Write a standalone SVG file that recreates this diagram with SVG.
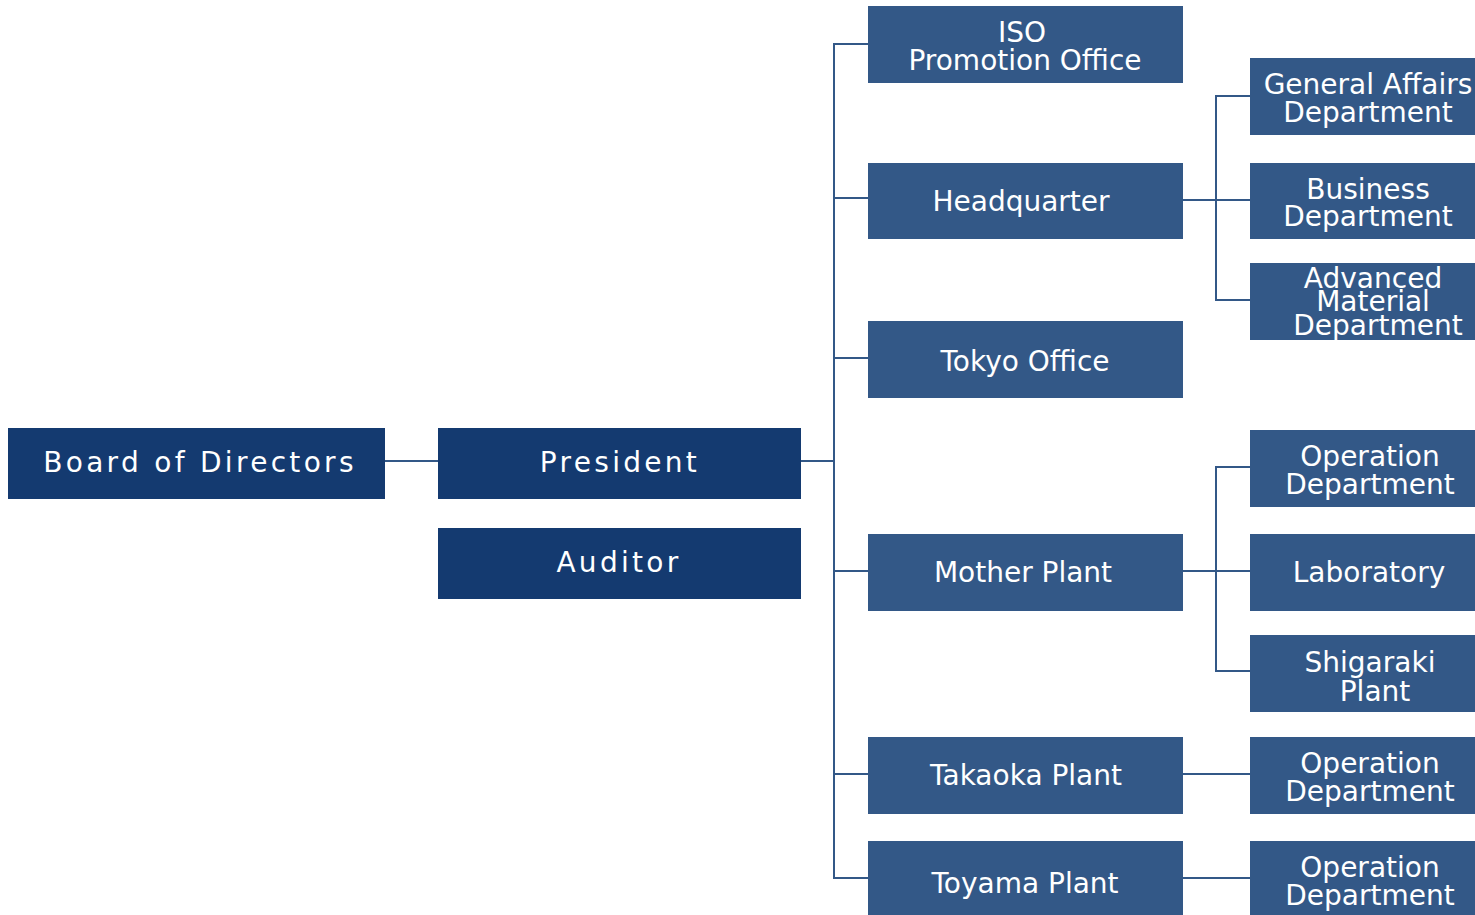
<svg xmlns="http://www.w3.org/2000/svg" width="1475" height="915" viewBox="0 0 1475 915">
<style>
.dk{fill:#143a70}
.lt{fill:#335887}
text{font-family:"DejaVu Sans","Verdana",sans-serif;font-size:28px;fill:#fff;text-anchor:middle}
.sp{letter-spacing:3.3px}
.ln{stroke:#335887;stroke-width:2;fill:none}
</style>
<rect width="1475" height="915" fill="#fff"/>
<g id="connectors">
<path class="ln" d="M385 461H438"/>
<path class="ln" d="M801 461H834"/>
<path class="ln" d="M868 44H834V878H868"/>
<path class="ln" d="M834 198H868"/>
<path class="ln" d="M834 358H868"/>
<path class="ln" d="M834 571H868"/>
<path class="ln" d="M834 774H868"/>
<path class="ln" d="M1183 200H1250"/>
<path class="ln" d="M1250 96H1216V300H1250"/>
<path class="ln" d="M1183 571H1250"/>
<path class="ln" d="M1250 467H1216V671H1250"/>
<path class="ln" d="M1183 774H1250"/>
<path class="ln" d="M1183 878H1250"/>
</g>
<g id="board"><rect class="dk" x="8" y="428" width="377" height="71"/><text class="sp" x="200" y="472">Board of Directors</text></g>
<g id="president"><rect class="dk" x="438" y="428" width="363" height="71"/><text class="sp" x="620" y="472">President</text></g>
<g id="auditor"><rect class="dk" x="438" y="528" width="363" height="71"/><text class="sp" x="619" y="572">Auditor</text></g>
<g id="iso"><rect class="lt" x="868" y="6" width="315" height="77"/><text x="1022" y="42">ISO</text><text x="1025" y="70">Promotion Office</text></g>
<g id="headquarter"><rect class="lt" x="868" y="163" width="315" height="76"/><text x="1021" y="211">Headquarter</text></g>
<g id="tokyo"><rect class="lt" x="868" y="321" width="315" height="77"/><text x="1025" y="371">Tokyo Office</text></g>
<g id="mother"><rect class="lt" x="868" y="534" width="315" height="77"/><text x="1023" y="582">Mother Plant</text></g>
<g id="takaoka"><rect class="lt" x="868" y="737" width="315" height="77"/><text x="1026" y="785">Takaoka Plant</text></g>
<g id="toyama"><rect class="lt" x="868" y="841" width="315" height="74"/><text x="1025" y="893">Toyama Plant</text></g>
<g id="general"><rect class="lt" x="1250" y="58" width="240" height="77"/><text x="1368" y="94">General Affairs</text><text x="1368" y="122">Department</text></g>
<g id="business"><rect class="lt" x="1250" y="163" width="240" height="76"/><text x="1368" y="199">Business</text><text x="1368" y="226">Department</text></g>
<g id="advanced"><rect class="lt" x="1250" y="263" width="240" height="77"/><text x="1373" y="288">Advanced</text><text x="1373" y="311">Material</text><text x="1378" y="335">Department</text></g>
<g id="op1"><rect class="lt" x="1250" y="430" width="240" height="77"/><text x="1370" y="466">Operation</text><text x="1370" y="494">Department</text></g>
<g id="lab"><rect class="lt" x="1250" y="534" width="240" height="77"/><text x="1369" y="582">Laboratory</text></g>
<g id="shigaraki"><rect class="lt" x="1250" y="635" width="240" height="77"/><text x="1370" y="672">Shigaraki</text><text x="1375" y="701">Plant</text></g>
<g id="op2"><rect class="lt" x="1250" y="737" width="240" height="77"/><text x="1370" y="773">Operation</text><text x="1370" y="801">Department</text></g>
<g id="op3"><rect class="lt" x="1250" y="841" width="240" height="74"/><text x="1370" y="877">Operation</text><text x="1370" y="905">Department</text></g>
</svg>
